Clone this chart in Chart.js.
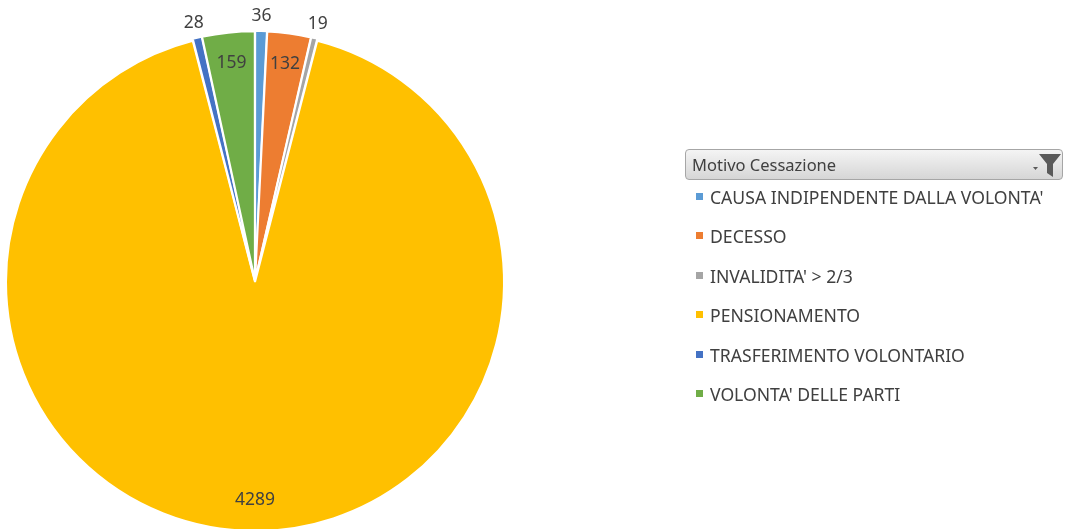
<!DOCTYPE html>
<html>
<head>
<meta charset="utf-8">
<script src="https://cdn.jsdelivr.net/npm/chart.js@4/dist/chart.umd.min.js"></script>
<style>
  html, body { margin: 0; padding: 0; background: #fff; overflow: hidden; }
  #wrap { position: relative; width: 1068px; height: 529px; overflow: hidden; }
  #chart { position: absolute; left: 0; top: 0; }
  #legend { position: absolute; left: 685px; top: 149px; width: 378px; font-family: "Noto Sans", sans-serif; color: #404040; }
  .hdr {
    height: 29px; border: 1px solid #a6a6a6; border-radius: 4px;
    background: linear-gradient(#f4f4f4, #d6d6d6);
    font-size: 16.5px; line-height: 29px; padding-left: 6px; position: relative;
  }
  .hdr svg { position: absolute; right: 0px; top: 1px; }
  .item { position: absolute; left: 0; font-size: 17.6px; white-space: nowrap; }
  .item span.sw { display: inline-block; width: 7px; height: 7px; margin: 0 7px 0 11px; vertical-align: 4px; }
</style>
</head>
<body>
<div id="wrap">
  <canvas id="chart" width="1068" height="540"></canvas>
  <div id="legend"></div>
</div>
<script>
const LEGEND_TITLE = 'Motivo Cessazione';
const CATEGORIES = [
  'CAUSA INDIPENDENTE DALLA VOLONTA\'',
  'DECESSO',
  'INVALIDITA\' > 2/3',
  'PENSIONAMENTO',
  'TRASFERIMENTO VOLONTARIO',
  'VOLONTA\' DELLE PARTI',
];
const VALUES = [36, 132, 19, 4289, 28, 159];
const COLORS = ['#5B9BD5', '#ED7D31', '#A5A5A5', '#FFC000', '#4472C4', '#70AD47'];

// legend (html, built from the same arrays)
const legend = document.getElementById('legend');
legend.innerHTML = '<div class="hdr">' + LEGEND_TITLE +
  '<svg width="32" height="28" viewBox="0 0 32 28">' +
  '<path d="M3 16 L8 16 L5.5 19 Z" fill="#595959"/>' +
  '<path d="M9 3 L31 3 L23 13 L23 26 L17 22 L17 13 Z" fill="#5a5a5a"/>' +
  '</svg></div>';
CATEGORIES.forEach((c, i) => {
  const d = document.createElement('div');
  d.className = 'item';
  d.style.top = (36 + i * 39.4) + 'px';
  d.innerHTML = '<span class="sw" style="background:' + COLORS[i] + '"></span>' + c;
  legend.appendChild(d);
});

// value labels, outside for thin slices
const sliceLabels = {
  id: 'sliceLabels',
  afterDatasetsDraw(chart) {
    const ctx = chart.ctx;
    const meta = chart.getDatasetMeta(0);
    ctx.save();
    ctx.font = '17.5px "Noto Sans", sans-serif';
    ctx.fillStyle = '#404040';
    ctx.textAlign = 'center';
    ctx.textBaseline = 'middle';
    meta.data.forEach((arc, i) => {
      const p = arc.getProps(['x', 'y', 'startAngle', 'endAngle', 'outerRadius'], true);
      const mid = (p.startAngle + p.endAngle) / 2;
      const thin = (p.endAngle - p.startAngle) < 0.09;
      const r = thin ? p.outerRadius + 17 : p.outerRadius * 0.885;
      ctx.fillText(String(VALUES[i]), p.x + Math.cos(mid) * r, p.y + Math.sin(mid) * r);
    });
    ctx.restore();
  }
};

new Chart(document.getElementById('chart'), {
  type: 'pie',
  data: {
    labels: CATEGORIES,
    datasets: [{
      data: VALUES,
      backgroundColor: COLORS,
      borderColor: '#ffffff',
      borderWidth: 2,
      offset: 4,
    }]
  },
  options: {
    responsive: false,
    animation: false,
    layout: { padding: { left: 4, right: 562, top: 30, bottom: 8 } },
    plugins: {
      legend: { display: false },
      tooltip: { enabled: false },
    }
  },
  plugins: [sliceLabels]
});
</script>
</body>
</html>
